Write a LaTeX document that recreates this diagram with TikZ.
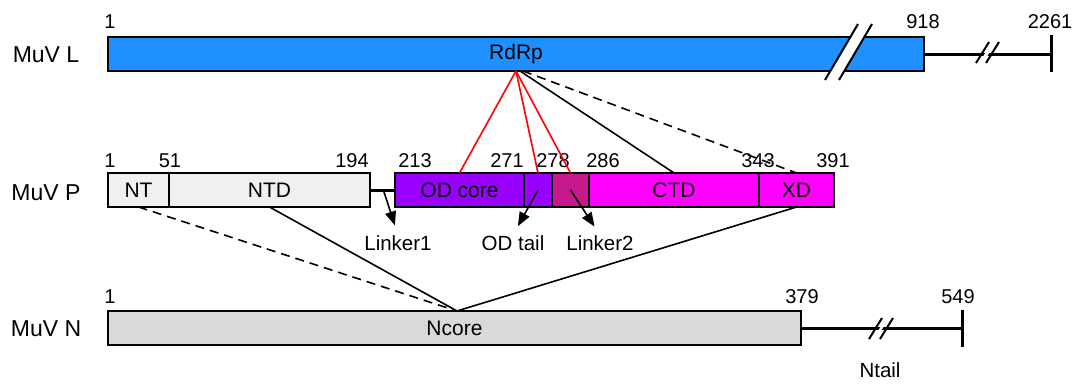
\documentclass[tikz,border=0pt]{standalone}
\usepackage{fontspec}
\setmainfont{Liberation Sans}
\usetikzlibrary{arrows.meta}
\definecolor{lblue}{RGB}{30,144,255}
\definecolor{pgray}{RGB}{240,240,240}
\definecolor{ngray}{RGB}{217,217,217}
\definecolor{odpurple}{RGB}{153,0,255}
\definecolor{lnk}{RGB}{200,25,140}
\definecolor{mag}{RGB}{255,0,255}
\begin{document}
\begin{tikzpicture}[x=1pt,y=-1pt,
  seg/.style={draw=black,line width=2pt,rectangle,inner sep=0pt,outer sep=0pt,anchor=north west,minimum height=34pt,font=\fontsize{21}{25}\selectfont},
  num/.style={anchor=base,inner sep=0pt,font=\fontsize{20}{24}\selectfont},
  lab/.style={anchor=base,inner sep=0pt,font=\fontsize{20.5}{24}\selectfont},
  prot/.style={anchor=base,inner sep=0pt,font=\fontsize{23}{27}\selectfont},
  conn/.style={line width=1.6pt},
  redconn/.style={line width=1.6pt,red},
  dconn/.style={line width=1.6pt,dash pattern=on 9pt off 6pt},
  thickline/.style={line width=3pt},
  brk/.style={line width=2pt},
  arr/.style={line width=1.6pt,-{Triangle[length=14pt,width=11pt]},shorten >=10pt},
]
\useasboundingbox (0,0) rectangle (1081,383);

% ---------- MuV L ----------
\node[prot] (pl) at (46,62) {MuV L};
\node[seg,fill=lblue,minimum width=816pt] (L) at (108,37) {RdRp};
\fill[white] (826,80) -- (859,24) -- (872,24) -- (839,80) -- cycle;
\draw[brk] (825,80) -- (858,24);
\draw[brk] (839,80) -- (872,24);
\coordinate (Lend) at (1051,54);
\draw[thickline] (L.east) -- (Lend);
\fill[white] (979,63) -- (992,42) -- (996,42) -- (983,63) -- cycle;
\draw[brk] (976,63) -- (989,42);
\draw[brk] (986,63) -- (999,42);
\draw[thickline] (1051,35) -- (1051,72);
\node[num] (l1) at (110,28) {1};
\node[num] (l918) at (923,28) {918};
\node[num] (l2261) at (1050,28) {2261};

% ---------- MuV P ----------
\node[prot] (pp) at (46,200) {MuV P};
\node[seg,fill=pgray,minimum width=61pt] (NT) at (108,173) {NT};
\node[seg,fill=pgray,minimum width=201pt] (NTD) at (169,173) {NTD};
\node[seg,fill=odpurple,minimum width=129pt] (ODcore) at (395,173) {OD core};
\node[seg,fill=odpurple,minimum width=28pt] (ODtail) at (524,173) {};
\node[seg,fill=lnk,minimum width=37pt] (L2) at (552,173) {};
\node[seg,fill=mag,minimum width=170pt] (CTD) at (589,173) {CTD};
\node[seg,fill=mag,minimum width=75pt] (XD) at (759,173) {XD};
\draw[thickline] (NTD.east) -- (ODcore.west);
\node[num] (p1) at (110,167) {1};
\node[num] (p51) at (170,167) {51};
\node[num] (p194) at (352,167) {194};
\node[num] (p213) at (415,167) {213};
\node[num] (p271) at (507,167) {271};
\node[num] (p278) at (553,167) {278};
\node[num] (p286) at (603,167) {286};
\node[num] (p343) at (758,167) {343};
\node[num] (p391) at (833,167) {391};

\node[lab] (lk1) at (398,250) {Linker1};
\node[lab] (odt) at (513,250) {OD tail};
\node[lab] (lk2) at (600,250) {Linker2};
\coordinate (lks) at (384,192);
\draw[arr] (lks) -- (lk1.north);
\draw[arr] (ODtail.center) -- (odt.north);
\draw[arr] (L2.center) -- (lk2.north);

% ---------- MuV N ----------
\node[prot] (pn) at (46,336) {MuV N};
\node[seg,fill=ngray,minimum width=693pt] (N) at (108,311) {Ncore};
\coordinate (Nend) at (962,328);
\draw[thickline] (N.east) -- (Nend);
\fill[white] (873,339) -- (886,318) -- (889,318) -- (876,339) -- cycle;
\draw[brk] (869,339) -- (882,318);
\draw[brk] (880,339) -- (893,318);
\draw[thickline] (962,310) -- (962,347);
\node[num] (n1) at (110,303) {1};
\node[num] (n379) at (802,303) {379};
\node[num] (n549) at (958,303) {549};
\node[lab] (ntail) at (880,377) {Ntail};

% ---------- connectors L - P ----------
\draw[redconn] (L.south) -- (ODcore.north);
\draw[redconn] (L.south) -- (ODtail.north);
\draw[redconn] (L.south) -- (L2.north);
\draw[conn] ([xshift=4pt]L.south) -- (CTD.north);
\draw[dconn] ([xshift=7pt]L.south) -- (XD.north);

% ---------- connectors P - N ----------
\coordinate (nc) at (457,311);
\draw[dconn] (NT.south) -- (nc);
\draw[conn] (NTD.south) -- (nc);
\draw[conn] (XD.south) -- (nc);
\end{tikzpicture}
\end{document}
